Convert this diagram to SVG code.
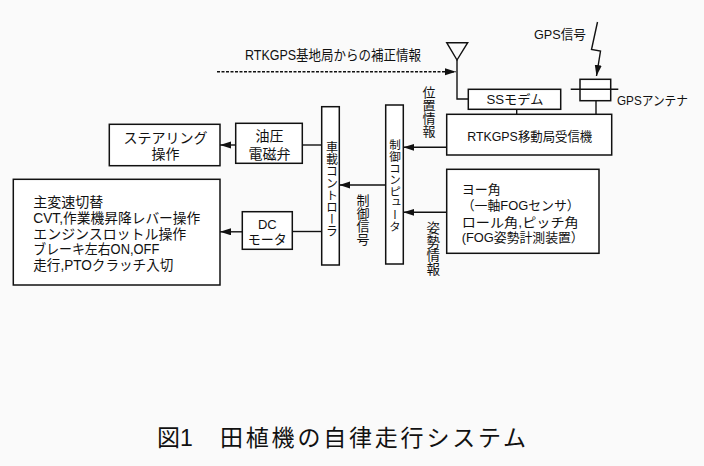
<svg xmlns="http://www.w3.org/2000/svg" width="704" height="466" viewBox="0 0 704 466">
<defs>
<style>
.bg{fill:#fafafa}
.box{fill:#ffffff;stroke:#111;stroke-width:1.5}
.ln{fill:none;stroke:#111;stroke-width:1.4}
.t{font-family:"Liberation Sans","Noto Sans CJK JP",sans-serif;fill:#111}
.s13{font-size:13px}
.s14{font-size:14px}
.v{writing-mode:vertical-rl;text-anchor:middle}
.c{text-anchor:middle}
</style>
<marker id="ah" markerUnits="userSpaceOnUse" markerWidth="12" markerHeight="8" refX="11" refY="3.5" orient="auto">
<path d="M0,0 L11,3.5 L0,7 z" fill="#111"/>
</marker>
</defs>
<rect class="bg" x="0" y="0" width="704" height="466"/>

<g id="connectors">
<line class="ln" x1="217" y1="71.7" x2="456" y2="71.7" stroke-dasharray="3,1.5" marker-end="url(#ah)"/>
<polyline class="ln" points="457,60 457,99 468.3,99"/>
<line class="ln" x1="516.7" y1="109.3" x2="516.7" y2="114.3"/>
<line class="ln" x1="596" y1="100.7" x2="596" y2="114.3"/>
<line class="ln" x1="446.7" y1="147.3" x2="403.3" y2="147.3" marker-end="url(#ah)"/>
<line class="ln" x1="446.7" y1="212.3" x2="403.3" y2="212.3" marker-end="url(#ah)"/>
<line class="ln" x1="385.7" y1="185" x2="339.3" y2="185" marker-end="url(#ah)"/>
<line class="ln" x1="321.7" y1="145" x2="302.3" y2="145"/>
<line class="ln" x1="235.7" y1="145" x2="220" y2="145" marker-end="url(#ah)"/>
<line class="ln" x1="321.7" y1="231.5" x2="292.3" y2="231.5"/>
<line class="ln" x1="242.3" y1="231.8" x2="220" y2="231.8" marker-end="url(#ah)"/>
<polyline class="ln" points="597.5,22 591.5,49.5 600.5,51 596.5,76" marker-end="url(#ah)"/>
</g>

<g id="base-label">
<text class="t s14" x="245" y="60" textLength="176" lengthAdjust="spacingAndGlyphs">RTKGPS基地局からの補正情報</text>
</g>

<g id="gps-signal">
<text class="t s13" x="534" y="39" textLength="52" lengthAdjust="spacingAndGlyphs">GPS信号</text>
</g>

<g id="antenna">
<polygon class="ln" points="446.7,42.7 467.7,42.7 457,60"/>
</g>

<g id="ss-modem">
<rect class="box" x="468.3" y="89.3" width="92.4" height="20"/>
<text class="t s13 c" x="515" y="104" textLength="57" lengthAdjust="spacingAndGlyphs">SSモデム</text>
</g>

<g id="gps-antenna">
<rect class="box" x="580" y="79.3" width="30.7" height="21.4"/>
<line class="ln" x1="570.7" y1="89.3" x2="618.3" y2="89.3"/>
<text class="t s13" x="617" y="105" textLength="71" lengthAdjust="spacingAndGlyphs">GPSアンテナ</text>
</g>

<g id="receiver">
<rect class="box" x="446.7" y="114.3" width="165" height="40.7"/>
<text class="t s13 c" x="529.7" y="140.5" textLength="125" lengthAdjust="spacingAndGlyphs">RTKGPS移動局受信機</text>
</g>

<g id="position-label">
<text class="t v" style="font-size:13px" x="428" y="111.5">位置情報</text>
</g>

<g id="posture">
<rect class="box" x="446.7" y="169.3" width="152.3" height="84"/>
<text class="t s13" x="461.7" y="194">ヨー角</text>
<text class="t s13" x="461.7" y="210" textLength="118" lengthAdjust="spacingAndGlyphs">（一軸FOGセンサ）</text>
<text class="t s13" x="461.7" y="226.5" textLength="117" lengthAdjust="spacingAndGlyphs">ロール角,ピッチ角</text>
<text class="t s13" x="461.7" y="241.7" textLength="122" lengthAdjust="spacingAndGlyphs">(FOG姿勢計測装置）</text>
</g>

<g id="posture-label">
<text class="t v" style="font-size:13.5px" x="431.7" y="248.5">姿勢情報</text>
</g>

<g id="control-computer">
<rect class="box" x="385.7" y="105" width="17.6" height="159"/>
<text class="t v" style="font-size:11.6px" x="394.5" y="185.5">制御コンピュータ</text>
</g>

<g id="control-signal-label">
<text class="t v" style="font-size:13px" x="362" y="219.2">制御信号</text>
</g>

<g id="vehicle-controller">
<rect class="box" x="321.7" y="106.7" width="17.6" height="158.3"/>
<text class="t v" style="font-size:12px" x="330.5" y="189.2">車載コントローラ</text>
</g>

<g id="valve">
<rect class="box" x="235.7" y="123.3" width="66.6" height="40"/>
<text class="t s14 c" x="269.5" y="141">油圧</text>
<text class="t s14 c" x="269.5" y="158.5">電磁弁</text>
</g>

<g id="steering">
<rect class="box" x="109.3" y="124.3" width="110.7" height="41.4"/>
<text class="t s14 c" x="165.5" y="142.5">ステアリング</text>
<text class="t s14 c" x="165.5" y="159">操作</text>
</g>

<g id="dc-motor">
<rect class="box" x="242.3" y="211.7" width="50" height="37.6"/>
<text class="t s13 c" x="267.3" y="228.5">DC</text>
<text class="t s13 c" x="267.3" y="243.5">モータ</text>
</g>

<g id="operations">
<rect class="box" x="13.3" y="179.3" width="206.7" height="105.7"/>
<text class="t s14" x="33.3" y="207">主変速切替</text>
<text class="t s14" x="33.3" y="222.8" textLength="167" lengthAdjust="spacingAndGlyphs">CVT,作業機昇降レバー操作</text>
<text class="t s14" x="33.3" y="238.5" textLength="153" lengthAdjust="spacingAndGlyphs">エンジンスロットル操作</text>
<text class="t s14" x="33.3" y="254.2" textLength="126" lengthAdjust="spacingAndGlyphs">ブレーキ左右ON,OFF</text>
<text class="t s14" x="33.3" y="270" textLength="140" lengthAdjust="spacingAndGlyphs">走行,PTOクラッチ入切</text>
</g>

<g id="title">
<text class="t" style="font-size:23px" x="157" y="446">図1<tspan x="220" style="letter-spacing:2.8px">田植機の自律走行システム</tspan></text>
</g>
</svg>
